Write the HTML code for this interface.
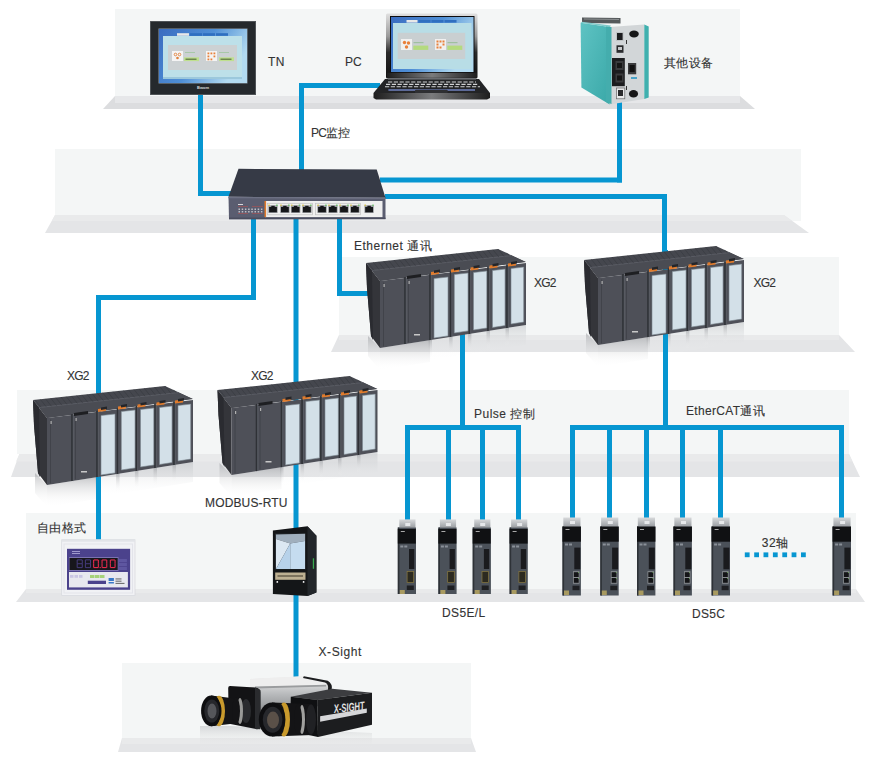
<!DOCTYPE html>
<html><head><meta charset="utf-8">
<style>
html,body{margin:0;padding:0;background:#fff;}
body{width:881px;height:763px;overflow:hidden;position:relative;font-family:"Liberation Sans",sans-serif;}
svg{position:absolute;left:0;top:0;}
.t{font-family:"Liberation Sans",sans-serif;font-size:12px;fill:#333;stroke:#333;stroke-width:0.12px;}
</style></head><body>
<svg width="881" height="763" viewBox="0 0 881 763">

<defs>
  <linearGradient id="hmiscr" x1="0" y1="0" x2="1" y2="0.4">
    <stop offset="0" stop-color="#3a6cc0"/>
    <stop offset="0.55" stop-color="#4f8fd6"/>
    <stop offset="1" stop-color="#b2daf0"/>
  </linearGradient>
  <linearGradient id="lid" x1="0" y1="0" x2="0" y2="1">
    <stop offset="0" stop-color="#e0e0e0"/>
    <stop offset="0.35" stop-color="#9a9a9a"/>
    <stop offset="0.6" stop-color="#2a2a2a"/>
    <stop offset="1" stop-color="#111"/>
  </linearGradient>
  <linearGradient id="base" x1="0" y1="0" x2="1" y2="0">
    <stop offset="0" stop-color="#1e1e1e"/>
    <stop offset="0.5" stop-color="#7a7b7d"/>
    <stop offset="1" stop-color="#1e1e1e"/>
  </linearGradient>
  <linearGradient id="teal" x1="0" y1="0" x2="1" y2="1">
    <stop offset="0" stop-color="#5ec3c3"/>
    <stop offset="1" stop-color="#3aa8a8"/>
  </linearGradient>
  <linearGradient id="cap" x1="0" y1="0" x2="0" y2="1">
    <stop offset="0" stop-color="#d8dadc"/>
    <stop offset="1" stop-color="#9a9ea2"/>
  </linearGradient>
  <linearGradient id="silver" x1="0" y1="0" x2="0" y2="1">
    <stop offset="0" stop-color="#f0f0f0"/>
    <stop offset="0.5" stop-color="#b8babc"/>
    <stop offset="1" stop-color="#8a8c8e"/>
  </linearGradient>
  <linearGradient id="refl3" x1="0" y1="0" x2="0" y2="1">
    <stop offset="0" stop-color="#b4b8bc" stop-opacity="0.45"/>
    <stop offset="1" stop-color="#ffffff" stop-opacity="0"/>
  </linearGradient>
  <linearGradient id="refl2" x1="0" y1="0" x2="0" y2="1">
    <stop offset="0" stop-color="#8a8c90" stop-opacity="0.4"/>
    <stop offset="1" stop-color="#ffffff" stop-opacity="0"/>
  </linearGradient>
  <linearGradient id="refl" x1="0" y1="0" x2="0" y2="1">
    <stop offset="0" stop-color="#9a9ca0" stop-opacity="0.55"/>
    <stop offset="1" stop-color="#ffffff" stop-opacity="0"/>
  </linearGradient>
</defs>

<g id="shelves">
  <rect x="115" y="9" width="625" height="87" fill="#f4f6f6"/>
  <polygon points="115,96 740,96 755,109 103,109" fill="#dcdddf"/>
  <rect x="115" y="96" width="625" height="7" fill="#e6e7e9"/>
  <rect x="55" y="149" width="746" height="72" fill="#f4f6f6"/>
  <polygon points="55,215 784,215 809,233 45,233" fill="#e4e5e7"/>
  <polygon points="55,215 784,215 792,221 52,221" fill="#e9eaeb"/>
  <rect x="339" y="257" width="500" height="78" fill="#f4f6f6"/>
  <polygon points="339,335 839,335 855,352 331,352" fill="#e4e5e7"/>
  <rect x="339" y="335" width="500" height="5" fill="#e9eaeb"/>
  <rect x="17" y="390" width="832" height="64" fill="#f4f6f6"/>
  <polygon points="19.4,454 849,454 860,477 11,477" fill="#e4e5e7"/>
  <polygon points="19.4,454 849,454 852.5,461.5 16,461.5" fill="#e9eaeb"/>
  <rect x="26" y="513" width="830" height="76" fill="#f4f6f6"/>
  <polygon points="26,589 856,589 865,602 16,602" fill="#e4e5e7"/>
  <rect x="26" y="589" width="830" height="4" fill="#e9eaeb"/>
  <rect x="122" y="663" width="349" height="75" fill="#f4f6f6"/>
  <polygon points="122,738 471,738 476,752 118,752" fill="#e4e5e7"/>
  <rect x="122" y="738" width="349" height="6" fill="#e9eaeb"/>
</g>
<defs><g id="xg2refl"><polygon points="368,336 380,348 380,370 368,356" fill="url(#refl)"/><polygon points="380,348.0 430,340.1 430,362.1 380,370.0" fill="url(#refl)"/><polygon points="430,340.1 526,325.0 526,345.0 430,360.1" fill="url(#refl3)"/><polygon points="428.5,340.1 432,339.8 432,357.8 428.5,358.1" fill="url(#refl)"/><polygon points="449.1,336.9 452.6,336.6 452.6,354.6 449.1,354.9" fill="url(#refl)"/><polygon points="467.9,333.9 471.4,333.6 471.4,351.6 467.9,351.9" fill="url(#refl)"/><polygon points="486.5,331.0 490,330.7 490,348.7 486.5,349.0" fill="url(#refl)"/><polygon points="505.5,328.0 509,327.7 509,345.7 505.5,346.0" fill="url(#refl)"/></g></defs><use href="#xg2refl"/><use href="#xg2refl" transform="translate(218,-3)"/><use href="#xg2refl" transform="translate(-333,137)"/><use href="#xg2refl" transform="translate(-148.5,127)"/>

<g id="lines" fill="#0696d1">
  <rect x="198" y="94" width="5" height="102"/>
  <rect x="198" y="191" width="34" height="5"/>
  <rect x="299" y="83" width="81" height="5"/>
  <rect x="299" y="83" width="5" height="88"/>
  <rect x="617" y="100" width="5" height="82.5"/>
  <rect x="380" y="177.5" width="242" height="5"/>
  <rect x="385" y="194" width="282" height="5"/>
  <rect x="662" y="194" width="5" height="64"/>
  <rect x="251" y="215" width="5" height="85"/>
  <rect x="96" y="295" width="160" height="5"/>
  <rect x="96" y="295" width="5" height="245"/>
  <rect x="293.5" y="215" width="5" height="465"/>
  <rect x="337" y="215" width="5" height="81"/>
  <rect x="337" y="291" width="33" height="5"/>
  <rect x="460" y="330" width="5" height="100"/>
  <rect x="405" y="425" width="116" height="5"/>
  <rect x="405" y="425" width="5" height="95"/>
  <rect x="446" y="425" width="5" height="95"/>
  <rect x="480" y="425" width="5" height="95"/>
  <rect x="516" y="425" width="5" height="95"/>
  <rect x="663" y="250" width="5" height="180"/>
  <rect x="570" y="425" width="274" height="5"/>
  <rect x="570" y="425" width="5" height="93"/>
  <rect x="607" y="425" width="5" height="93"/>
  <rect x="644" y="425" width="5" height="93"/>
  <rect x="680" y="425" width="5" height="93"/>
  <rect x="718" y="425" width="5" height="93"/>
  <rect x="839" y="425" width="5" height="93"/>
</g>
<clipPath id="xg2top"><polygon points="366,263 498,249 526,262 380,281"/></clipPath>
<g id="xg2">
<polygon points="366,263 380,281 380,348 371,336 367,288" fill="#34353a"/>
<polygon points="366,263 372,270.5 373,340 371,336 367,288" fill="#2a2b30"/>
<polygon points="366,263 498,249 526,262 380,281" fill="#45474e"/>
<g clip-path="url(#xg2top)">
<polygon points="372,270.5 512,255.5 526,262 380,281" fill="#4a4c53"/>
<line x1="372" y1="270.5" x2="512" y2="255.5" stroke="#5c5f66" stroke-width="0.9"/>
<line x1="368.0" y1="262.8" x2="374.0" y2="270.3" stroke="#3a3c42" stroke-width="0.7"/>
<line x1="373.2" y1="262.2" x2="379.2" y2="269.7" stroke="#3a3c42" stroke-width="0.7"/>
<line x1="378.4" y1="261.7" x2="384.4" y2="269.2" stroke="#3a3c42" stroke-width="0.7"/>
<line x1="383.6" y1="261.1" x2="389.6" y2="268.6" stroke="#3a3c42" stroke-width="0.7"/>
<line x1="388.8" y1="260.6" x2="394.8" y2="268.1" stroke="#3a3c42" stroke-width="0.7"/>
<line x1="394.0" y1="260.0" x2="400.0" y2="267.5" stroke="#3a3c42" stroke-width="0.7"/>
<line x1="399.2" y1="259.5" x2="405.2" y2="266.9" stroke="#3a3c42" stroke-width="0.7"/>
<line x1="404.4" y1="258.9" x2="410.4" y2="266.4" stroke="#3a3c42" stroke-width="0.7"/>
<line x1="409.6" y1="258.4" x2="415.6" y2="265.8" stroke="#3a3c42" stroke-width="0.7"/>
<line x1="414.8" y1="257.8" x2="420.8" y2="265.3" stroke="#3a3c42" stroke-width="0.7"/>
<line x1="420.0" y1="257.3" x2="426.0" y2="264.7" stroke="#3a3c42" stroke-width="0.7"/>
<line x1="425.2" y1="256.7" x2="431.2" y2="264.2" stroke="#3a3c42" stroke-width="0.7"/>
<line x1="430.4" y1="256.2" x2="436.4" y2="263.6" stroke="#3a3c42" stroke-width="0.7"/>
<line x1="435.6" y1="255.6" x2="441.6" y2="263.1" stroke="#3a3c42" stroke-width="0.7"/>
<line x1="440.8" y1="255.1" x2="446.8" y2="262.5" stroke="#3a3c42" stroke-width="0.7"/>
<line x1="446.0" y1="254.5" x2="452.0" y2="261.9" stroke="#3a3c42" stroke-width="0.7"/>
<line x1="451.2" y1="254.0" x2="457.2" y2="261.4" stroke="#3a3c42" stroke-width="0.7"/>
<line x1="456.4" y1="253.4" x2="462.4" y2="260.8" stroke="#3a3c42" stroke-width="0.7"/>
<line x1="461.6" y1="252.9" x2="467.6" y2="260.3" stroke="#3a3c42" stroke-width="0.7"/>
<line x1="466.8" y1="252.3" x2="472.8" y2="259.7" stroke="#3a3c42" stroke-width="0.7"/>
<line x1="472.0" y1="251.8" x2="478.0" y2="259.2" stroke="#3a3c42" stroke-width="0.7"/>
<line x1="477.2" y1="251.2" x2="483.2" y2="258.6" stroke="#3a3c42" stroke-width="0.7"/>
<line x1="482.4" y1="250.7" x2="488.4" y2="258.0" stroke="#3a3c42" stroke-width="0.7"/>
<line x1="487.6" y1="250.1" x2="493.6" y2="257.5" stroke="#3a3c42" stroke-width="0.7"/>
<line x1="492.8" y1="249.6" x2="498.8" y2="256.9" stroke="#3a3c42" stroke-width="0.7"/>
<line x1="498.0" y1="249.0" x2="504.0" y2="256.4" stroke="#3a3c42" stroke-width="0.7"/>
<line x1="503.2" y1="248.5" x2="509.2" y2="255.8" stroke="#3a3c42" stroke-width="0.7"/>
<line x1="508.4" y1="247.9" x2="514.4" y2="255.3" stroke="#3a3c42" stroke-width="0.7"/>
<line x1="513.6" y1="247.4" x2="519.6" y2="254.7" stroke="#3a3c42" stroke-width="0.7"/>
<line x1="518.8" y1="246.8" x2="524.8" y2="254.2" stroke="#3a3c42" stroke-width="0.7"/>
</g>
<polygon points="380,281.0 526,263.0 526,325.0 380,348.0" fill="#4e5058"/>
<line x1="405" y1="276.9" x2="405" y2="344.1" stroke="#2f3136" stroke-width="1.6"/>
<line x1="406.3" y1="277.9" x2="406.3" y2="344.1" stroke="#62656c" stroke-width="0.6"/>
<line x1="430" y1="273.8" x2="430" y2="340.1" stroke="#2f3136" stroke-width="1.6"/>
<line x1="431.3" y1="274.8" x2="431.3" y2="340.1" stroke="#62656c" stroke-width="0.6"/>
<line x1="450.6" y1="271.3" x2="450.6" y2="336.9" stroke="#2f3136" stroke-width="1.6"/>
<line x1="451.90000000000003" y1="272.3" x2="451.90000000000003" y2="336.9" stroke="#62656c" stroke-width="0.6"/>
<line x1="469.4" y1="269.0" x2="469.4" y2="333.9" stroke="#2f3136" stroke-width="1.6"/>
<line x1="470.7" y1="270.0" x2="470.7" y2="333.9" stroke="#62656c" stroke-width="0.6"/>
<line x1="488" y1="266.7" x2="488" y2="331.0" stroke="#2f3136" stroke-width="1.6"/>
<line x1="489.3" y1="267.7" x2="489.3" y2="331.0" stroke="#62656c" stroke-width="0.6"/>
<line x1="507" y1="264.3" x2="507" y2="328.0" stroke="#2f3136" stroke-width="1.6"/>
<line x1="508.3" y1="265.3" x2="508.3" y2="328.0" stroke="#62656c" stroke-width="0.6"/>
<line x1="383.5" y1="282.6" x2="383.5" y2="346.4" stroke="#3e4046" stroke-width="0.8"/>
<line x1="408.5" y1="279.5" x2="408.5" y2="342.5" stroke="#3e4046" stroke-width="0.8"/>
<polygon points="434,278.5 448,277.0 448,335.9 434,338" fill="#d3e0e8" stroke="#7c8890" stroke-width="0.6"/>
<polygon points="454.3,274.5 468,273.0 468,330.9 454.3,333" fill="#d3e0e8" stroke="#7c8890" stroke-width="0.6"/>
<polygon points="473.5,272.5 486.8,271.0 486.8,328.0 473.5,330" fill="#d3e0e8" stroke="#7c8890" stroke-width="0.6"/>
<polygon points="492.5,270.5 505,269.1 505,325.6 492.5,327.5" fill="#d3e0e8" stroke="#7c8890" stroke-width="0.6"/>
<polygon points="511,268.5 523.7,267.1 523.7,322.1 511,324" fill="#d3e0e8" stroke="#7c8890" stroke-width="0.6"/>
<polygon points="431,272 439,271 439,274 431,275" fill="#e07b2c"/>
<polygon points="434,270.5 440,269.5 440,272 434,273" fill="#24262a"/>
<polygon points="451,269.5 459,268.5 459,271.5 451,272.5" fill="#e07b2c"/>
<polygon points="454,268.0 460,267.0 460,269.5 454,270.5" fill="#24262a"/>
<polygon points="470.5,267.5 478.5,266.5 478.5,269.5 470.5,270.5" fill="#e07b2c"/>
<polygon points="473.5,266.0 479.5,265.0 479.5,267.5 473.5,268.5" fill="#24262a"/>
<polygon points="489.5,265.5 497.5,264.5 497.5,267.5 489.5,268.5" fill="#e07b2c"/>
<polygon points="492.5,264.0 498.5,263.0 498.5,265.5 492.5,266.5" fill="#24262a"/>
<polygon points="508,263.5 516,262.5 516,265.5 508,266.5" fill="#e07b2c"/>
<polygon points="511,262.0 517,261.0 517,263.5 511,264.5" fill="#24262a"/>
<polygon points="407,276 421,274 421,277 407,279" fill="#1e1f22"/>
<rect x="414" y="334" width="6" height="1.5" fill="#c8c8c8"/>
<rect x="383.5" y="284" width="1.2" height="3" fill="#b0b0b0"/><rect x="408.5" y="281" width="1.2" height="3" fill="#b0b0b0"/>
</g>

<use href="#xg2" transform="translate(218,-3)"/>
<use href="#xg2" transform="translate(-333,137)"/>
<use href="#xg2" transform="translate(-148.5,127)"/>
<g id="hmi">
<rect x="150" y="21" width="106" height="74" fill="#25292d"/>
<rect x="150.4" y="21.4" width="105.2" height="73.2" fill="none" stroke="#5a5e62" stroke-width="0.8"/>
<rect x="158.5" y="28.5" width="89" height="55" fill="#8c9aa6"/>
<rect x="159" y="29" width="88" height="54" fill="url(#hmiscr)"/>
<rect x="163" y="36" width="79" height="43" fill="#bde0e9"/>
<rect x="163" y="77" width="79" height="2" fill="#9cc8dc"/>
<rect x="177" y="33.2" width="12" height="2.6" fill="#e8e8e8"/>
<rect x="190" y="33.2" width="12" height="2.6" fill="#2f6fc0"/>
<rect x="203" y="33.2" width="12" height="2.6" fill="#2f6fc0"/>
<rect x="216" y="33.2" width="12" height="2.6" fill="#2f6fc0"/>
<rect x="168" y="45" width="69" height="25" fill="#ccd1d3"/>
<rect x="172" y="51" width="11" height="10" fill="#f4f4f4"/>
<circle cx="175.5" cy="54.5" r="1.3" fill="none" stroke="#e0803a" stroke-width="0.9"/><circle cx="179.5" cy="54.5" r="1.3" fill="none" stroke="#e0803a" stroke-width="0.9"/><circle cx="177.5" cy="58" r="1.3" fill="#e0803a"/>
<rect x="184" y="57.3" width="15" height="3.8" fill="#bfe08e"/>
<rect x="185.5" y="58.6" width="11" height="1.2" fill="#5a7040"/>
<rect x="185" y="52" width="10" height="1" fill="#a8c8a8"/>
<rect x="206" y="51" width="11" height="10" fill="#f4f4f4"/>
<g fill="#e8803a"><rect x="207.5" y="52.5" width="1.8" height="1.8"/><rect x="210.5" y="52.5" width="1.8" height="1.8"/><rect x="213.5" y="52.5" width="1.8" height="1.8"/><rect x="207.5" y="55.5" width="1.8" height="1.8"/><rect x="213.5" y="55.5" width="1.8" height="1.8"/><rect x="207.5" y="58.5" width="1.8" height="1.8"/><rect x="210.5" y="58.5" width="1.8" height="1.8"/></g>
<rect x="219" y="57.3" width="15" height="3.8" fill="#bfe08e"/>
<rect x="220.5" y="58.6" width="11" height="1.2" fill="#5a7040"/>
<rect x="219" y="52" width="10" height="1" fill="#a8c8a8"/>
<text x="197" y="89" font-family="Liberation Sans" font-size="4" font-weight="bold" fill="#d8dadc">Bwom</text>
</g>
<g id="laptop">
<rect x="386" y="13.5" width="91.5" height="65" rx="1.5" fill="url(#lid)"/>
<rect x="390" y="16" width="84.5" height="57.5" fill="#0d0d0f"/>
<rect x="391" y="17" width="82.5" height="55" fill="url(#hmiscr)"/>
<rect x="393" y="23" width="78.5" height="46" fill="#b8dde6"/>
<rect x="406.5" y="20" width="11" height="2.6" fill="#e8e8e8"/>
<rect x="418.5" y="20" width="12" height="2.6" fill="#2f6fc0"/>
<rect x="431.5" y="20" width="12" height="2.6" fill="#2f6fc0"/>
<rect x="444.5" y="20" width="12" height="2.6" fill="#2f6fc0"/>
<rect x="397.7" y="32.8" width="67.5" height="26.2" fill="#c9cfd1"/>
<rect x="401" y="39" width="11" height="11" fill="#f0f0f0"/>
<circle cx="404.5" cy="42.5" r="1.7" fill="#e8803a"/><circle cx="408.5" cy="43" r="1.7" fill="#e8803a"/><circle cx="406.5" cy="47" r="1.7" fill="#e8803a"/>
<rect x="413.3" y="45.6" width="15" height="4.3" fill="#b4da7e"/>
<rect x="413.5" y="42" width="10" height="1.2" fill="#9fc0a0"/>
<rect x="435" y="39" width="11" height="11" fill="#f0f0f0"/>
<g fill="#e8803a"><rect x="436.5" y="40.5" width="2" height="2"/><rect x="439.5" y="40.5" width="2" height="2"/><rect x="442.5" y="40.5" width="2" height="2"/><rect x="436.5" y="43.5" width="2" height="2"/><rect x="442.5" y="43.5" width="2" height="2"/><rect x="436.5" y="46.5" width="2" height="2"/><rect x="439.5" y="46.5" width="2" height="2"/></g>
<rect x="447.3" y="45.6" width="15" height="4.3" fill="#b4da7e"/>
<rect x="447.5" y="42" width="10" height="1.2" fill="#9fc0a0"/>
<rect x="387" y="72.8" width="90" height="5" fill="url(#base)"/>
<polygon points="385,79 479,79 490,93 373.5,93" fill="#232426"/>
<rect x="388" y="78" width="88" height="1.6" fill="#6a6c70"/>
<g stroke="#d2d3d5" stroke-width="1.1" stroke-dasharray="4.2,1.6">
<line x1="388" y1="82" x2="476" y2="82"/>
<line x1="386" y1="84.4" x2="478" y2="84.4"/>
<line x1="385" y1="86.7" x2="480" y2="86.7"/>
</g>
<rect x="388.4" y="89" width="86.6" height="2" fill="#5d6a98"/>
<rect x="415" y="89.8" width="32.7" height="3.5" rx="1" fill="#2e2f32"/>
<polygon points="373.5,93 490,93 490,98 487,99.5 376,99.5 373.5,98" fill="url(#base)"/>
</g>
<g id="other">
<polygon points="582,17.5 620.5,18 620.5,23.5 582,23" fill="#55595b"/>
<polygon points="584,18.5 619,19 619,20 584,19.5" fill="#8a8e90"/>
<polygon points="580.6,22.7 609.7,27 609.7,104.5 581.4,87.5" fill="url(#teal)"/>
<polygon points="580.6,22.7 582,21.8 611,25.5 609.7,27" fill="#7fcaca"/>
<polygon points="609.7,27 644.3,24.6 644.3,99 609.7,104.5" fill="#d2d6d8"/>
<polygon points="606,26.5 611.5,27 611.5,104 606,102" fill="#44adad"/>
<polygon points="644.3,24.6 648.7,26.5 648.7,97.5 644.3,99" fill="#3fb0ae"/>
<rect x="616" y="32" width="7.6" height="9" fill="#bfc3c5"/><rect x="617" y="33" width="5.6" height="7" fill="#1b1c1e"/>
<ellipse cx="634" cy="34" rx="4.8" ry="3.4" fill="#151617"/>
<rect x="616.5" y="45.3" width="7" height="7.5" fill="#2a2b2d"/><rect x="618" y="47" width="4" height="3" fill="#c5c7c9"/>
<rect x="612" y="58" width="12.8" height="28.2" fill="#1c1d1f"/>
<rect x="615.5" y="61" width="8" height="9" fill="#3a3b3d"/><rect x="617" y="63" width="5" height="5" fill="#151515"/>
<rect x="615.5" y="73.5" width="8" height="9" fill="#3a3b3d"/><rect x="617" y="75.5" width="5" height="5" fill="#151515"/>
<rect x="628" y="63" width="8.2" height="11.3" fill="#3a3b3d"/><rect x="629.5" y="65" width="5.2" height="7" fill="#111"/>
<rect x="616.6" y="88" width="8.2" height="10.8" fill="#e8eaeb" stroke="#666" stroke-width="0.7"/>
<rect x="618" y="90" width="5" height="6" fill="#2a2b2d"/>
<ellipse cx="633.5" cy="93.8" rx="4.6" ry="3.7" fill="#151617"/>
<rect x="631" y="77" width="6" height="2" fill="#4aa3c8"/>
<rect x="626" y="40" width="1" height="4" fill="#333"/><rect x="626" y="86" width="1" height="4" fill="#333"/>
</g>
<g id="switch">
<polygon points="238.5,168.8 376.7,169.5 385.5,197.8 228.5,196.8" fill="#363a46"/>
<polygon points="228.5,196.8 385.5,197.8 385.5,219 229,219.2" fill="#5a5d70"/>
<polygon points="228.5,196.8 385.5,197.8 385.5,199 228.5,198.2" fill="#6e7184"/>
<rect x="229" y="217.6" width="156.5" height="1.6" fill="#4a4d5e"/>
<rect x="265" y="201" width="117.5" height="16.1" fill="#efefef"/>
<rect x="264.5" y="201" width="1.6" height="16.1" fill="#e07b2c"/>
<rect x="267.3" y="203.3" width="45.3" height="11.5" fill="none" stroke="#c0c0c0" stroke-width="0.7"/>
<rect x="315.4" y="203.3" width="45.2" height="11.5" fill="none" stroke="#c0c0c0" stroke-width="0.7"/>
<rect x="268.3" y="205.3" width="9.4" height="7.6" fill="#9a9ca0"/>
<path d="M269.1,207 h7.8 v5.3 h-7.8 z" fill="#16171a"/>
<rect x="271.3" y="205.8" width="3.4" height="1.4" fill="#16171a"/>
<rect x="268.3" y="204.6" width="1.6" height="1.2" fill="#d8c040"/>
<rect x="276.1" y="204.6" width="1.6" height="1.2" fill="#60c060"/>
<rect x="280.2" y="205.3" width="9.4" height="7.6" fill="#9a9ca0"/>
<path d="M281.0,207 h7.8 v5.3 h-7.8 z" fill="#16171a"/>
<rect x="283.2" y="205.8" width="3.4" height="1.4" fill="#16171a"/>
<rect x="280.2" y="204.6" width="1.6" height="1.2" fill="#d8c040"/>
<rect x="288.0" y="204.6" width="1.6" height="1.2" fill="#60c060"/>
<rect x="290.9" y="205.3" width="9.4" height="7.6" fill="#9a9ca0"/>
<path d="M291.7,207 h7.8 v5.3 h-7.8 z" fill="#16171a"/>
<rect x="293.9" y="205.8" width="3.4" height="1.4" fill="#16171a"/>
<rect x="290.9" y="204.6" width="1.6" height="1.2" fill="#d8c040"/>
<rect x="298.7" y="204.6" width="1.6" height="1.2" fill="#60c060"/>
<rect x="302.2" y="205.3" width="9.4" height="7.6" fill="#9a9ca0"/>
<path d="M303.0,207 h7.8 v5.3 h-7.8 z" fill="#16171a"/>
<rect x="305.2" y="205.8" width="3.4" height="1.4" fill="#16171a"/>
<rect x="302.2" y="204.6" width="1.6" height="1.2" fill="#d8c040"/>
<rect x="310.0" y="204.6" width="1.6" height="1.2" fill="#60c060"/>
<rect x="317.3" y="205.3" width="9.4" height="7.6" fill="#9a9ca0"/>
<path d="M318.1,207 h7.8 v5.3 h-7.8 z" fill="#16171a"/>
<rect x="320.3" y="205.8" width="3.4" height="1.4" fill="#16171a"/>
<rect x="317.3" y="204.6" width="1.6" height="1.2" fill="#d8c040"/>
<rect x="325.1" y="204.6" width="1.6" height="1.2" fill="#60c060"/>
<rect x="328.2" y="205.3" width="9.4" height="7.6" fill="#9a9ca0"/>
<path d="M329.0,207 h7.8 v5.3 h-7.8 z" fill="#16171a"/>
<rect x="331.2" y="205.8" width="3.4" height="1.4" fill="#16171a"/>
<rect x="328.2" y="204.6" width="1.6" height="1.2" fill="#d8c040"/>
<rect x="336.0" y="204.6" width="1.6" height="1.2" fill="#60c060"/>
<rect x="339.3" y="205.3" width="9.4" height="7.6" fill="#9a9ca0"/>
<path d="M340.1,207 h7.8 v5.3 h-7.8 z" fill="#16171a"/>
<rect x="342.3" y="205.8" width="3.4" height="1.4" fill="#16171a"/>
<rect x="339.3" y="204.6" width="1.6" height="1.2" fill="#d8c040"/>
<rect x="347.1" y="204.6" width="1.6" height="1.2" fill="#60c060"/>
<rect x="350.2" y="205.3" width="9.4" height="7.6" fill="#9a9ca0"/>
<path d="M351.0,207 h7.8 v5.3 h-7.8 z" fill="#16171a"/>
<rect x="353.2" y="205.8" width="3.4" height="1.4" fill="#16171a"/>
<rect x="350.2" y="204.6" width="1.6" height="1.2" fill="#d8c040"/>
<rect x="358.0" y="204.6" width="1.6" height="1.2" fill="#60c060"/>
<rect x="364.4" y="205.3" width="9.4" height="7.6" fill="#9a9ca0"/>
<path d="M365.2,207 h7.8 v5.3 h-7.8 z" fill="#16171a"/>
<rect x="367.4" y="205.8" width="3.4" height="1.4" fill="#16171a"/>
<rect x="364.4" y="204.6" width="1.6" height="1.2" fill="#d8c040"/>
<rect x="372.2" y="204.6" width="1.6" height="1.2" fill="#60c060"/>
<rect x="238.5" y="208.6" width="1.5" height="1.2" fill="#d8d8dc"/>
<rect x="238.5" y="211.2" width="1.5" height="1.2" fill="#d8d8dc"/>
<rect x="241.7" y="208.6" width="1.5" height="1.2" fill="#d8d8dc"/>
<rect x="241.7" y="211.2" width="1.5" height="1.2" fill="#d8d8dc"/>
<rect x="244.9" y="208.6" width="1.5" height="1.2" fill="#d8d8dc"/>
<rect x="244.9" y="211.2" width="1.5" height="1.2" fill="#d8d8dc"/>
<rect x="248.1" y="208.6" width="1.5" height="1.2" fill="#d8d8dc"/>
<rect x="248.1" y="211.2" width="1.5" height="1.2" fill="#d8d8dc"/>
<rect x="251.3" y="208.6" width="1.5" height="1.2" fill="#d8d8dc"/>
<rect x="251.3" y="211.2" width="1.5" height="1.2" fill="#d8d8dc"/>
<rect x="254.5" y="208.6" width="1.5" height="1.2" fill="#d8d8dc"/>
<rect x="254.5" y="211.2" width="1.5" height="1.2" fill="#d8d8dc"/>
<rect x="257.7" y="208.6" width="1.5" height="1.2" fill="#d8d8dc"/>
<rect x="257.7" y="211.2" width="1.5" height="1.2" fill="#d8d8dc"/>
<rect x="260.9" y="208.6" width="1.5" height="1.2" fill="#d8d8dc"/>
<rect x="260.9" y="211.2" width="1.5" height="1.2" fill="#d8d8dc"/>
<rect x="238" y="206.2" width="10" height="0.6" fill="#b05050"/><rect x="252" y="206.2" width="11" height="0.6" fill="#b05050"/>
<rect x="238" y="213.4" width="10" height="0.6" fill="#b05050"/><rect x="252" y="213.4" width="11" height="0.6" fill="#b05050"/>
<rect x="238" y="204" width="5" height="1" fill="#d8d8dc"/>
</g>
<g>
<polygon points="399.3,519.4 415.5,519.4 415.5,527.7 399.3,527.7" fill="url(#cap)"/>
<rect x="397.8" y="527.5" width="18.2" height="66.5" fill="#4b5159"/>
<rect x="397.8" y="527.5" width="1.6" height="66.5" fill="#2e3237"/>
<rect x="397.8" y="529" width="18" height="14.6" fill="#101113"/>
<rect x="400.8" y="531" width="4" height="1" fill="#aaa"/>
<rect x="400.3" y="545.5" width="3" height="2" fill="#8a9098"/><rect x="404.3" y="545.5" width="3" height="2" fill="#8a9098"/>
<rect x="409.0" y="549" width="5.3" height="20" fill="#1a1b1e"/>
<rect x="407.1" y="571.4" width="6.6" height="11.2" fill="#2c2a20" stroke="#8a7a40" stroke-width="0.7"/>
<rect x="406.8" y="585.5" width="7" height="4.5" fill="#1e1f22"/>
<rect x="399.8" y="590" width="5" height="4" fill="#a89a60"/>
<rect x="405.3" y="523" width="5" height="3" fill="#e6e8ea"/>
</g>
<g>
<polygon points="439.9,519.4 456.09999999999997,519.4 456.09999999999997,527.7 439.9,527.7" fill="url(#cap)"/>
<rect x="438.4" y="527.5" width="18.2" height="66.5" fill="#4b5159"/>
<rect x="438.4" y="527.5" width="1.6" height="66.5" fill="#2e3237"/>
<rect x="438.4" y="529" width="18" height="14.6" fill="#101113"/>
<rect x="441.4" y="531" width="4" height="1" fill="#aaa"/>
<rect x="440.9" y="545.5" width="3" height="2" fill="#8a9098"/><rect x="444.9" y="545.5" width="3" height="2" fill="#8a9098"/>
<rect x="449.59999999999997" y="549" width="5.3" height="20" fill="#1a1b1e"/>
<rect x="447.7" y="571.4" width="6.6" height="11.2" fill="#2c2a20" stroke="#8a7a40" stroke-width="0.7"/>
<rect x="447.4" y="585.5" width="7" height="4.5" fill="#1e1f22"/>
<rect x="440.4" y="590" width="5" height="4" fill="#a89a60"/>
<rect x="445.9" y="523" width="5" height="3" fill="#e6e8ea"/>
</g>
<g>
<polygon points="474.2,519.4 490.4,519.4 490.4,527.7 474.2,527.7" fill="url(#cap)"/>
<rect x="472.7" y="527.5" width="18.2" height="66.5" fill="#4b5159"/>
<rect x="472.7" y="527.5" width="1.6" height="66.5" fill="#2e3237"/>
<rect x="472.7" y="529" width="18" height="14.6" fill="#101113"/>
<rect x="475.7" y="531" width="4" height="1" fill="#aaa"/>
<rect x="475.2" y="545.5" width="3" height="2" fill="#8a9098"/><rect x="479.2" y="545.5" width="3" height="2" fill="#8a9098"/>
<rect x="483.9" y="549" width="5.3" height="20" fill="#1a1b1e"/>
<rect x="482.0" y="571.4" width="6.6" height="11.2" fill="#2c2a20" stroke="#8a7a40" stroke-width="0.7"/>
<rect x="481.7" y="585.5" width="7" height="4.5" fill="#1e1f22"/>
<rect x="474.7" y="590" width="5" height="4" fill="#a89a60"/>
<rect x="480.2" y="523" width="5" height="3" fill="#e6e8ea"/>
</g>
<g>
<polygon points="511.1,519.4 527.3000000000001,519.4 527.3000000000001,527.7 511.1,527.7" fill="url(#cap)"/>
<rect x="509.6" y="527.5" width="18.2" height="66.5" fill="#4b5159"/>
<rect x="509.6" y="527.5" width="1.6" height="66.5" fill="#2e3237"/>
<rect x="509.6" y="529" width="18" height="14.6" fill="#101113"/>
<rect x="512.6" y="531" width="4" height="1" fill="#aaa"/>
<rect x="512.1" y="545.5" width="3" height="2" fill="#8a9098"/><rect x="516.1" y="545.5" width="3" height="2" fill="#8a9098"/>
<rect x="520.8000000000001" y="549" width="5.3" height="20" fill="#1a1b1e"/>
<rect x="518.9" y="571.4" width="6.6" height="11.2" fill="#2c2a20" stroke="#8a7a40" stroke-width="0.7"/>
<rect x="518.6" y="585.5" width="7" height="4.5" fill="#1e1f22"/>
<rect x="511.6" y="590" width="5" height="4" fill="#a89a60"/>
<rect x="517.1" y="523" width="5" height="3" fill="#e6e8ea"/>
</g>
<g>
<polygon points="563.3,517.5 580.5,517.5 580.5,526.6 563.3,526.6" fill="url(#cap)"/>
<rect x="562.5" y="526.5" width="18.4" height="69" fill="#4b5159"/>
<rect x="562.5" y="526.5" width="1.6" height="69" fill="#2e3237"/>
<rect x="562.5" y="526.6" width="18.4" height="15.1" fill="#101113"/>
<rect x="565.5" y="529" width="4" height="1" fill="#aaa"/>
<rect x="565.0" y="543.5" width="3" height="2" fill="#8a9098"/><rect x="569.0" y="543.5" width="3" height="2" fill="#8a9098"/>
<rect x="574.3" y="547.6" width="6" height="21.7" fill="#1a1b1e"/>
<rect x="573.0" y="571.2" width="6.5" height="12.5" fill="#8a8e92"/>
<rect x="573.8" y="572.2" width="4.9" height="4.8" fill="#141517"/><rect x="573.8" y="578" width="4.9" height="4.8" fill="#141517"/>
<rect x="578.1" y="572.2" width="0.8" height="0.8" fill="#7acc60"/><rect x="578.1" y="578" width="0.8" height="0.8" fill="#7acc60"/>
<rect x="572.5" y="585.7" width="7" height="4.5" fill="#1e1f22"/>
<rect x="564.0" y="590.5" width="5" height="4.5" fill="#a89a60"/>
<rect x="570.0" y="521" width="5" height="3" fill="#e6e8ea"/>
</g>
<g>
<polygon points="601.0999999999999,517.5 618.3,517.5 618.3,526.6 601.0999999999999,526.6" fill="url(#cap)"/>
<rect x="600.3" y="526.5" width="18.4" height="69" fill="#4b5159"/>
<rect x="600.3" y="526.5" width="1.6" height="69" fill="#2e3237"/>
<rect x="600.3" y="526.6" width="18.4" height="15.1" fill="#101113"/>
<rect x="603.3" y="529" width="4" height="1" fill="#aaa"/>
<rect x="602.8" y="543.5" width="3" height="2" fill="#8a9098"/><rect x="606.8" y="543.5" width="3" height="2" fill="#8a9098"/>
<rect x="612.0999999999999" y="547.6" width="6" height="21.7" fill="#1a1b1e"/>
<rect x="610.8" y="571.2" width="6.5" height="12.5" fill="#8a8e92"/>
<rect x="611.5999999999999" y="572.2" width="4.9" height="4.8" fill="#141517"/><rect x="611.5999999999999" y="578" width="4.9" height="4.8" fill="#141517"/>
<rect x="615.9" y="572.2" width="0.8" height="0.8" fill="#7acc60"/><rect x="615.9" y="578" width="0.8" height="0.8" fill="#7acc60"/>
<rect x="610.3" y="585.7" width="7" height="4.5" fill="#1e1f22"/>
<rect x="601.8" y="590.5" width="5" height="4.5" fill="#a89a60"/>
<rect x="607.8" y="521" width="5" height="3" fill="#e6e8ea"/>
</g>
<g>
<polygon points="637.8,517.5 655,517.5 655,526.6 637.8,526.6" fill="url(#cap)"/>
<rect x="637" y="526.5" width="18.4" height="69" fill="#4b5159"/>
<rect x="637" y="526.5" width="1.6" height="69" fill="#2e3237"/>
<rect x="637" y="526.6" width="18.4" height="15.1" fill="#101113"/>
<rect x="640" y="529" width="4" height="1" fill="#aaa"/>
<rect x="639.5" y="543.5" width="3" height="2" fill="#8a9098"/><rect x="643.5" y="543.5" width="3" height="2" fill="#8a9098"/>
<rect x="648.8" y="547.6" width="6" height="21.7" fill="#1a1b1e"/>
<rect x="647.5" y="571.2" width="6.5" height="12.5" fill="#8a8e92"/>
<rect x="648.3" y="572.2" width="4.9" height="4.8" fill="#141517"/><rect x="648.3" y="578" width="4.9" height="4.8" fill="#141517"/>
<rect x="652.6" y="572.2" width="0.8" height="0.8" fill="#7acc60"/><rect x="652.6" y="578" width="0.8" height="0.8" fill="#7acc60"/>
<rect x="647" y="585.7" width="7" height="4.5" fill="#1e1f22"/>
<rect x="638.5" y="590.5" width="5" height="4.5" fill="#a89a60"/>
<rect x="644.5" y="521" width="5" height="3" fill="#e6e8ea"/>
</g>
<g>
<polygon points="674.3,517.5 691.5,517.5 691.5,526.6 674.3,526.6" fill="url(#cap)"/>
<rect x="673.5" y="526.5" width="18.4" height="69" fill="#4b5159"/>
<rect x="673.5" y="526.5" width="1.6" height="69" fill="#2e3237"/>
<rect x="673.5" y="526.6" width="18.4" height="15.1" fill="#101113"/>
<rect x="676.5" y="529" width="4" height="1" fill="#aaa"/>
<rect x="676.0" y="543.5" width="3" height="2" fill="#8a9098"/><rect x="680.0" y="543.5" width="3" height="2" fill="#8a9098"/>
<rect x="685.3" y="547.6" width="6" height="21.7" fill="#1a1b1e"/>
<rect x="684.0" y="571.2" width="6.5" height="12.5" fill="#8a8e92"/>
<rect x="684.8" y="572.2" width="4.9" height="4.8" fill="#141517"/><rect x="684.8" y="578" width="4.9" height="4.8" fill="#141517"/>
<rect x="689.1" y="572.2" width="0.8" height="0.8" fill="#7acc60"/><rect x="689.1" y="578" width="0.8" height="0.8" fill="#7acc60"/>
<rect x="683.5" y="585.7" width="7" height="4.5" fill="#1e1f22"/>
<rect x="675.0" y="590.5" width="5" height="4.5" fill="#a89a60"/>
<rect x="681.0" y="521" width="5" height="3" fill="#e6e8ea"/>
</g>
<g>
<polygon points="712.4,517.5 729.6,517.5 729.6,526.6 712.4,526.6" fill="url(#cap)"/>
<rect x="711.6" y="526.5" width="18.4" height="69" fill="#4b5159"/>
<rect x="711.6" y="526.5" width="1.6" height="69" fill="#2e3237"/>
<rect x="711.6" y="526.6" width="18.4" height="15.1" fill="#101113"/>
<rect x="714.6" y="529" width="4" height="1" fill="#aaa"/>
<rect x="714.1" y="543.5" width="3" height="2" fill="#8a9098"/><rect x="718.1" y="543.5" width="3" height="2" fill="#8a9098"/>
<rect x="723.4" y="547.6" width="6" height="21.7" fill="#1a1b1e"/>
<rect x="722.1" y="571.2" width="6.5" height="12.5" fill="#8a8e92"/>
<rect x="722.9" y="572.2" width="4.9" height="4.8" fill="#141517"/><rect x="722.9" y="578" width="4.9" height="4.8" fill="#141517"/>
<rect x="727.2" y="572.2" width="0.8" height="0.8" fill="#7acc60"/><rect x="727.2" y="578" width="0.8" height="0.8" fill="#7acc60"/>
<rect x="721.6" y="585.7" width="7" height="4.5" fill="#1e1f22"/>
<rect x="713.1" y="590.5" width="5" height="4.5" fill="#a89a60"/>
<rect x="719.1" y="521" width="5" height="3" fill="#e6e8ea"/>
</g>
<g>
<polygon points="833.4,517.5 850.6,517.5 850.6,526.6 833.4,526.6" fill="url(#cap)"/>
<rect x="832.6" y="526.5" width="18.4" height="69" fill="#4b5159"/>
<rect x="832.6" y="526.5" width="1.6" height="69" fill="#2e3237"/>
<rect x="832.6" y="526.6" width="18.4" height="15.1" fill="#101113"/>
<rect x="835.6" y="529" width="4" height="1" fill="#aaa"/>
<rect x="835.1" y="543.5" width="3" height="2" fill="#8a9098"/><rect x="839.1" y="543.5" width="3" height="2" fill="#8a9098"/>
<rect x="844.4" y="547.6" width="6" height="21.7" fill="#1a1b1e"/>
<rect x="843.1" y="571.2" width="6.5" height="12.5" fill="#8a8e92"/>
<rect x="843.9" y="572.2" width="4.9" height="4.8" fill="#141517"/><rect x="843.9" y="578" width="4.9" height="4.8" fill="#141517"/>
<rect x="848.2" y="572.2" width="0.8" height="0.8" fill="#7acc60"/><rect x="848.2" y="578" width="0.8" height="0.8" fill="#7acc60"/>
<rect x="842.6" y="585.7" width="7" height="4.5" fill="#1e1f22"/>
<rect x="834.1" y="590.5" width="5" height="4.5" fill="#a89a60"/>
<rect x="840.1" y="521" width="5" height="3" fill="#e6e8ea"/>
</g>
<rect x="744.8" y="552.4" width="4.8" height="4.8" fill="#0696d1"/>
<rect x="754.2" y="552.4" width="4.8" height="4.8" fill="#0696d1"/>
<rect x="763.5" y="552.4" width="4.8" height="4.8" fill="#0696d1"/>
<rect x="772.9" y="552.4" width="4.8" height="4.8" fill="#0696d1"/>
<rect x="782.3" y="552.4" width="4.8" height="4.8" fill="#0696d1"/>
<rect x="791.6" y="552.4" width="4.8" height="4.8" fill="#0696d1"/>
<rect x="801.0" y="552.4" width="4.8" height="4.8" fill="#0696d1"/>
<g id="weigh">
<rect x="61.7" y="539.7" width="73.3" height="55.9" fill="#f1f2f5" stroke="#d6d8dd" stroke-width="0.7"/>
<rect x="61.7" y="539.7" width="73.3" height="2" fill="#e2e4e8"/>
<rect x="64" y="544" width="68.5" height="49" fill="none" stroke="#e3e4ea" stroke-width="1"/>
<rect x="67" y="548.8" width="63.1" height="41" fill="#4b428c"/>
<rect x="69" y="557" width="49.5" height="14" fill="#7a72b0"/>
<rect x="69.5" y="558" width="48.2" height="12" fill="#17161c"/>
<rect x="77.24" y="559.40" width="4.92" height="0.90" fill="#4a3f86"/><rect x="81.80" y="559.85" width="0.90" height="3.90" fill="#4a3f86"/><rect x="81.80" y="563.75" width="0.90" height="3.90" fill="#4a3f86"/><rect x="77.24" y="567.20" width="4.92" height="0.90" fill="#4a3f86"/><rect x="76.70" y="563.75" width="0.90" height="3.90" fill="#4a3f86"/><rect x="76.70" y="559.85" width="0.90" height="3.90" fill="#4a3f86"/><rect x="77.24" y="563.30" width="4.92" height="0.90" fill="#4a3f86"/><rect x="85.44" y="559.40" width="4.92" height="0.90" fill="#4a3f86"/><rect x="90.00" y="559.85" width="0.90" height="3.90" fill="#4a3f86"/><rect x="90.00" y="563.75" width="0.90" height="3.90" fill="#4a3f86"/><rect x="85.44" y="567.20" width="4.92" height="0.90" fill="#4a3f86"/><rect x="84.90" y="563.75" width="0.90" height="3.90" fill="#4a3f86"/><rect x="84.90" y="559.85" width="0.90" height="3.90" fill="#4a3f86"/><rect x="85.44" y="563.30" width="4.92" height="0.90" fill="#4a3f86"/><rect x="93.76" y="559.40" width="4.48" height="1.10" fill="#e42a4c"/><rect x="97.80" y="559.95" width="1.10" height="3.80" fill="#e42a4c"/><rect x="97.80" y="563.75" width="1.10" height="3.80" fill="#e42a4c"/><rect x="93.76" y="567.00" width="4.48" height="1.10" fill="#e42a4c"/><rect x="93.10" y="563.75" width="1.10" height="3.80" fill="#e42a4c"/><rect x="93.10" y="559.95" width="1.10" height="3.80" fill="#e42a4c"/><rect x="99.6" y="567" width="1.2" height="1.1" fill="#e42a4c"/><rect x="102.16" y="559.40" width="4.48" height="1.10" fill="#e42a4c"/><rect x="106.20" y="559.95" width="1.10" height="3.80" fill="#e42a4c"/><rect x="106.20" y="563.75" width="1.10" height="3.80" fill="#e42a4c"/><rect x="102.16" y="567.00" width="4.48" height="1.10" fill="#e42a4c"/><rect x="101.50" y="563.75" width="1.10" height="3.80" fill="#e42a4c"/><rect x="101.50" y="559.95" width="1.10" height="3.80" fill="#e42a4c"/><rect x="110.46" y="559.40" width="4.48" height="1.10" fill="#e42a4c"/><rect x="114.50" y="559.95" width="1.10" height="3.80" fill="#e42a4c"/><rect x="114.50" y="563.75" width="1.10" height="3.80" fill="#e42a4c"/><rect x="110.46" y="567.00" width="4.48" height="1.10" fill="#e42a4c"/><rect x="109.80" y="563.75" width="1.10" height="3.80" fill="#e42a4c"/><rect x="109.80" y="559.95" width="1.10" height="3.80" fill="#e42a4c"/>
<rect x="118.7" y="559" width="8.2" height="3.2" fill="#5e56a0"/><rect x="118.7" y="563" width="8.2" height="3.2" fill="#5e56a0"/><rect x="118.7" y="567" width="8.2" height="3" fill="#5e56a0"/>
<rect x="69" y="572" width="58.9" height="15.4" fill="#e8e8ef"/>
<rect x="70" y="575" width="3.5" height="2.8" fill="#cac6e4"/><rect x="74.5" y="575" width="3.5" height="2.8" fill="#cac6e4"/><rect x="79" y="575" width="3.5" height="2.8" fill="#cac6e4"/>
<rect x="90" y="575" width="4.5" height="3" fill="#a6d27a"/><rect x="95" y="575" width="4.5" height="3" fill="#a6d27a"/><rect x="100" y="575" width="4.5" height="3" fill="#a6d27a"/>
<rect x="87.8" y="580.7" width="18.2" height="3.3" fill="#4b428c"/>
<rect x="108.6" y="578" width="5.3" height="3" fill="#3a78c8"/><rect x="108.6" y="582" width="5.3" height="1.5" fill="#3a78c8"/>
<rect x="115.5" y="578.5" width="6" height="0.9" fill="#555"/><rect x="115.5" y="580.7" width="6" height="0.9" fill="#555"/><rect x="115.5" y="582.9" width="9" height="0.9" fill="#555"/>
<rect x="72" y="551" width="8" height="0.9" fill="#aaa4d4"/><rect x="72" y="553" width="8" height="0.9" fill="#aaa4d4"/>
</g>
<g id="modbus">
<polygon points="272.9,530.5 307.5,526.3 316.4,535.7 316.4,592.4 307.5,596 272.9,594" fill="#141618"/>
<polygon points="307.5,526.3 316.4,535.7 316.4,592.4 307.5,596" fill="#22262a"/>
<rect x="275" y="533.6" width="30.9" height="35.7" fill="#2a2e33"/>
<polygon points="276,534.5 305,533.8 305,541 290.2,543.6 276,539" fill="#a0afbd"/>
<polygon points="276,539 290.2,543.6 276,569" fill="#dce8f2"/>
<polygon points="290.2,543.6 305,541 305,569 290.2,569" fill="#c5dcef"/>
<polygon points="290.2,543.6 290.2,569 276,569" fill="#b7d2ea"/>
<rect x="275.2" y="572.5" width="30.3" height="7.3" fill="#bdb092"/>
<rect x="277.5" y="575.2" width="25.5" height="1.6" fill="#6e6450"/>
<circle cx="277.3" cy="581.9" r="0.9" fill="#fff"/><circle cx="303.6" cy="581.9" r="0.9" fill="#fff"/>
<rect x="312.8" y="558.3" width="1.3" height="10.5" fill="#3aaa50"/>
</g>
<g id="cams">
<polygon points="200,726 230,726 372,733 372,750 200,750" fill="url(#refl2)" opacity="0.7"/>
<!-- camera 1 silver body -->
<path d="M250,679 L303.8,676.2 L327.7,680.8 Q332,684 331.6,690 L331,705 L260,712 L250,700 Z" fill="url(#silver)"/>
<path d="M250,679 L303.8,676.2 L326,680.5 L326,685 L250,687 Z" fill="#eeeeee"/>
<path d="M255,686.5 L326,684.8 L326,686.5 L255,688.5 Z" fill="#9a9c9e"/>
<path d="M303.8,676.2 L327.7,680.8 Q333,684 331.6,690 L328,690 Q329,684 325,682.5 L303,678 Z" fill="#1c1d1f"/>
<!-- front plate -->
<path d="M230,685.9 L255,687.5 Q260.4,688 260.4,692 L260.4,727 Q260,729.3 257,729.3 L230.5,724 Q228.7,723.7 228.7,721 L228.2,688 Q228.2,685.9 230,685.9 Z" fill="#131315"/>
<polygon points="255,687.5 260.4,690 260.4,729.3 255,729" fill="#2a2b2e"/>
<!-- lens 1 -->
<polygon points="211,695.5 247,700 247,722 211,726.2" fill="#141416"/>
<ellipse cx="246" cy="711" rx="5" ry="12" fill="#2a2b2e"/>
<ellipse cx="240" cy="711" rx="3" ry="13" fill="#9a9a98"/>
<ellipse cx="236" cy="711" rx="4" ry="13.5" fill="#141416"/>
<ellipse cx="219" cy="711" rx="6" ry="15.3" fill="#c99a2c"/>
<ellipse cx="214.5" cy="711" rx="6" ry="15" fill="#141416"/>
<ellipse cx="211.3" cy="710.9" rx="10.2" ry="15.3" fill="#0e0e10"/>
<ellipse cx="211.8" cy="711" rx="7.5" ry="11.5" fill="#26272b"/>
<ellipse cx="212" cy="711" rx="4.5" ry="7.5" fill="#55565a"/>
<!-- camera 2 -->
<polygon points="290.8,696.7 332.2,688.7 372,692.7 317.5,700" fill="#3c3d40"/>
<polygon points="317.5,700 372,692.7 372,724.7 318,737" fill="#1c1d1f"/>
<polygon points="290.8,696.7 317.5,700 318,737 290,731" fill="#0f1012"/>
<text x="333.5" y="711.5" font-family="Liberation Sans" font-size="12" font-weight="bold" font-style="italic" fill="#e2e2e2" transform="rotate(-6 349 706)" textLength="31" lengthAdjust="spacingAndGlyphs">X-SIGHT</text>
<polygon points="320.1,716.2 366.8,708.4 366.8,712.8 320.1,721.7" fill="#d6d7d9"/>
<!-- lens 2 -->
<polygon points="272,702.6 312,704 312,735 272,736.6" fill="#141416"/>
<ellipse cx="311" cy="719.5" rx="5" ry="15" fill="#202124"/>
<ellipse cx="302" cy="719.5" rx="3" ry="14.5" fill="#a0a09e"/>
<ellipse cx="298" cy="719.5" rx="4" ry="15" fill="#141416"/>
<ellipse cx="284" cy="719.6" rx="6" ry="17" fill="#c99a2c"/>
<ellipse cx="279" cy="719.6" rx="6" ry="16.6" fill="#141416"/>
<ellipse cx="272.1" cy="719.6" rx="13.3" ry="17" fill="#0e0e10"/>
<ellipse cx="272.6" cy="719.8" rx="9.8" ry="13" fill="#27282c"/>
<ellipse cx="273" cy="720" rx="6" ry="8.5" fill="#5a5048"/>
</g>

<g id="labels">
  <text class="t" x="268" y="66" style="letter-spacing:0.3px">TN</text>
  <text class="t" x="345" y="66" style="letter-spacing:0px">PC</text>
  <text class="t" x="664" y="67" style="letter-spacing:0.33px">其他设备</text>
  <text class="t" x="311" y="137" style="letter-spacing:-0.7px">PC监控</text>
  <text class="t" x="354" y="250" style="letter-spacing:0.5px">Ethernet 通讯</text>
  <text class="t" x="534" y="287" style="letter-spacing:-0.85px">XG2</text>
  <text class="t" x="753.5" y="287" style="letter-spacing:-0.85px">XG2</text>
  <text class="t" x="67" y="380" style="letter-spacing:-0.85px">XG2</text>
  <text class="t" x="251" y="380" style="letter-spacing:-0.85px">XG2</text>
  <text class="t" x="474" y="418" style="letter-spacing:0.5px">Pulse 控制</text>
  <text class="t" x="686" y="415" style="letter-spacing:0.33px">EtherCAT通讯</text>
  <text class="t" x="37" y="532" style="letter-spacing:0.47px">自由格式</text>
  <text class="t" x="205" y="507" style="letter-spacing:0.15px">MODBUS-RTU</text>
  <text class="t" x="761.8" y="547" style="letter-spacing:0.6px">32轴</text>
  <text class="t" x="442" y="617" style="letter-spacing:0.36px">DS5E/L</text>
  <text class="t" x="692" y="618" style="letter-spacing:0.27px">DS5C</text>
  <text class="t" x="318.5" y="656" style="letter-spacing:0.58px">X-Sight</text>
</g>
</svg>
</body></html>
